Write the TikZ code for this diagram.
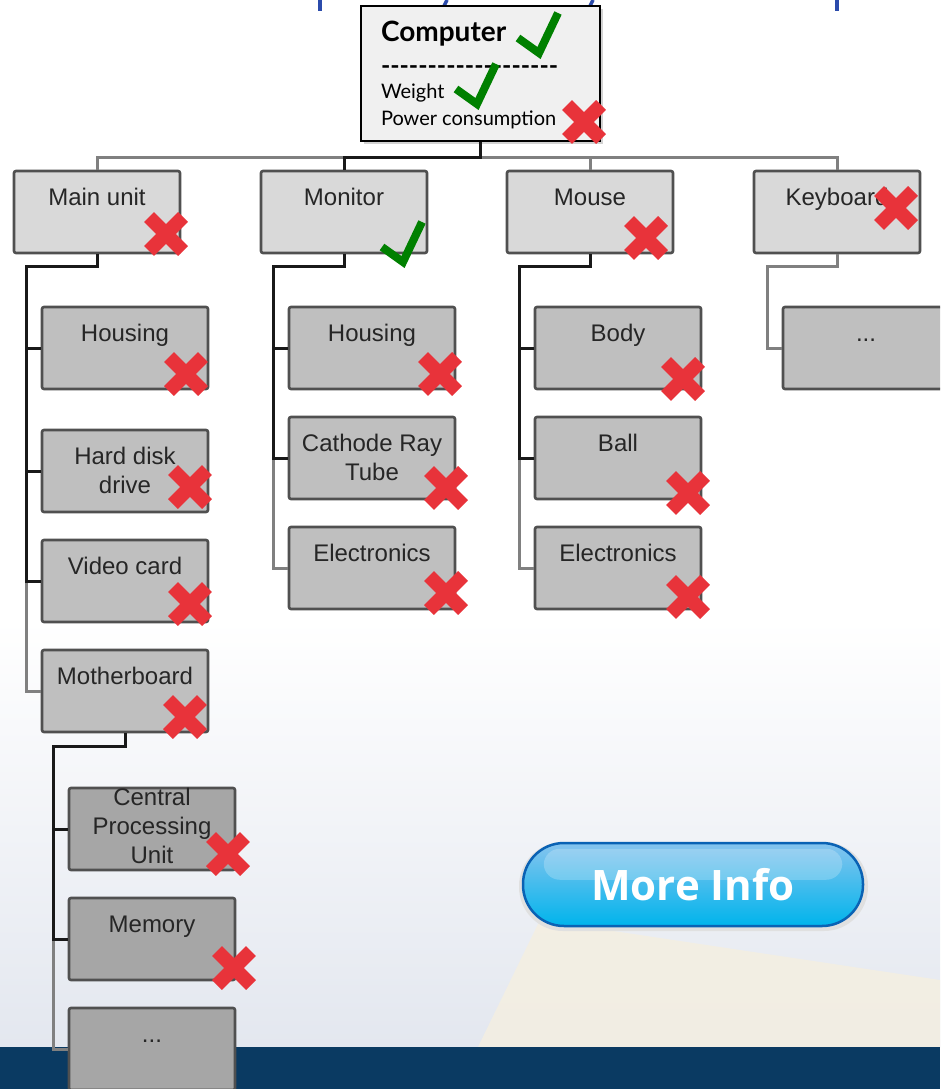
\documentclass[tikz,border=0pt]{standalone}
\usepackage{fontspec}
\setmainfont{Liberation Sans}
\newfontfamily\gillfont{Lato}
\newfontfamily\btnfont{Open Sans}
\usetikzlibrary{shadows}
\definecolor{boxA}{HTML}{D9D9D9}
\definecolor{boxB}{HTML}{BFBFBF}
\definecolor{boxC}{HTML}{A6A6A6}
\definecolor{rim}{HTML}{505050}
\definecolor{xred}{HTML}{E8333A}
\definecolor{okgreen}{HTML}{008000}
\definecolor{navy}{HTML}{0A3A62}
\definecolor{topblue}{HTML}{2B4BAB}
\definecolor{bgblue}{HTML}{E3E7EF}
\definecolor{beige}{HTML}{F5EFE0}
\definecolor{btnrim}{HTML}{0A62B4}
\definecolor{btntop}{HTML}{86C4EE}
\definecolor{btnmid}{HTML}{3FB0EC}
\definecolor{btnbot}{HTML}{00B4EC}
\newcommand{\nope}[1]{\draw[xred,line width=14pt] ([shift={(-17,-17)}]#1) -- ([shift={(17,17)}]#1) ([shift={(-17,17)}]#1) -- ([shift={(17,-17)}]#1);}
\newcommand{\yes}[1]{\draw[okgreen,line width=8pt,line join=miter] ([shift={(-21,-15)}]#1) -- (#1) -- ([shift={(19,-40)}]#1);}
\begin{document}
\begin{tikzpicture}[x=1pt,y=-1pt,
    box/.style={draw=rim,line width=2.6pt,rounded corners=2pt,minimum width=166pt,inner xsep=0pt,inner ysep=0pt,
      text height=34pt,text depth=48pt,text=black!85,font=\fontsize{24}{29}\selectfont},
    lvlone/.style={box,fill=boxA},
    lvltwo/.style={box,fill=boxB},
    lvlthree/.style={box,fill=boxC},
    rootbox/.style={draw=black,line width=1.6pt,fill=black!6,inner xsep=20pt,inner ysep=0pt,
      text height=36pt,text depth=99pt,font=\gillfont\fontsize{20}{27}\selectfont,
      drop shadow={shadow xshift=3pt,shadow yshift=-3pt,opacity=0.35}},
    bln/.style={draw=black!90,line width=3pt},
    gln/.style={draw=black!50,line width=3pt},
    btn/.style={draw=btnrim,line width=2.5pt,rounded corners=41pt,minimum width=340pt,minimum height=83pt,
      top color=btntop,middle color=btnmid,bottom color=btnbot,text=white,
      font=\btnfont\bfseries\fontsize{42}{42}\selectfont}]
  \useasboundingbox (0,0) rectangle (940,1089);
  \clip (0,0) rectangle (940,1089);

  % background
  \fill[white] (0,0) rectangle (940,1089);
  \shade[top color=white,bottom color=bgblue] (0,620) rectangle (940,1047);
  \fill[beige,opacity=0.8] (540,920) -- (940,980) -- (940,1047) -- (478,1047) -- cycle;
  \fill[navy] (0,1047) rectangle (940,1089);
  \fill[topblue] (318,0) rectangle (322,11);
  \fill[topblue] (835,0) rectangle (839,11);
  \draw[topblue,line width=3.5pt] (441,12) -- (447,0);
  \draw[topblue,line width=3.5pt] (587,12) -- (593,0);

  \node[rootbox] (root) at (480.5,73.5) {\makebox[199pt][l]{\begin{tabular}[t]{@{}l@{}}
    {\bfseries\fontsize{28}{28}\selectfont Computer}\\[3pt]
    \raisebox{-3pt}{\bfseries\fontsize{25}{27}\selectfont -------------------}\\
    Weight\\
    Power consumption\end{tabular}}};

  \node[lvlone] (main) at (97,212) {Main unit};
  \node[lvlone] (mon) at (344,212) {Monitor};
  \node[lvlone] (mouse) at (590,212) {Mouse};
  \node[lvlone] (kbd) at (837,212) {Keyboard};

  \node[lvltwo] (hous1) at (125,348) {Housing};
  \node[lvltwo] (hdd) at (125,471) {\begin{tabular}[t]{@{}c@{}}Hard disk\\drive\end{tabular}};
  \node[lvltwo] (video) at (125,581) {Video card};
  \node[lvltwo] (mobo) at (125,691) {Motherboard};

  \node[lvltwo] (hous2) at (372,348) {Housing};
  \node[lvltwo] (crt) at (372,458) {\begin{tabular}[t]{@{}c@{}}Cathode Ray\\Tube\end{tabular}};
  \node[lvltwo] (elec1) at (372,568) {Electronics};

  \node[lvltwo] (body) at (618,348) {Body};
  \node[lvltwo] (ball) at (618,458) {Ball};
  \node[lvltwo] (elec2) at (618,568) {Electronics};

  \node[lvltwo] (kmore) at (866,348) {...};

  \node[lvlthree,text height=17pt,text depth=65pt] (cpu) at (152,829) {\begin{tabular}[t]{@{}c@{}}Central\\Processing\\Unit\end{tabular}};
  \node[lvlthree] (mem) at (152,939) {Memory};
  \node[lvlthree] (mmore) at (152,1049) {...};

  % connectors
  \draw[gln] (root.south) ++(0,16) -| (main.north);
  \draw[gln] (root.south) ++(0,16) -| (mouse.north);
  \draw[gln] (root.south) ++(0,16) -| (kbd.north);
  \draw[bln] (root.south) -- ++(0,16) -| (mon.north);

  \draw[gln] (main.south) -- ++(0,12) -| ([xshift=-14pt]mobo.west) -- (mobo.west);
  \draw[bln] (main.south) -- ++(0,12) -| ([xshift=-14pt]video.west) -- (video.west);
  \draw[bln] ([xshift=-14pt]hdd.west) -- (hdd.west);
  \draw[bln] ([xshift=-14pt]hous1.west) -- (hous1.west);

  \draw[gln] (mon.south) -- ++(0,12) -| ([xshift=-14pt]elec1.west) -- (elec1.west);
  \draw[bln] (mon.south) -- ++(0,12) -| ([xshift=-14pt]crt.west) -- (crt.west);
  \draw[bln] ([xshift=-14pt]hous2.west) -- (hous2.west);

  \draw[gln] (mouse.south) -- ++(0,12) -| ([xshift=-14pt]elec2.west) -- (elec2.west);
  \draw[bln] (mouse.south) -- ++(0,12) -| ([xshift=-14pt]ball.west) -- (ball.west);
  \draw[bln] ([xshift=-14pt]body.west) -- (body.west);

  \draw[gln] (kbd.south) -- ++(0,12) -| ([xshift=-14pt]kmore.west) -- (kmore.west);

  \draw[gln] (mobo.south) -- ++(0,13) -| ([xshift=-14pt]mmore.west) -- (mmore.west);
  \draw[bln] (mobo.south) -- ++(0,13) -| ([xshift=-14pt]mem.west) -- (mem.west);
  \draw[bln] ([xshift=-14pt]cpu.west) -- (cpu.west);

  % marks
  \yes{539,53}
  \yes{477,104}
  \yes{403,262}
  \nope{584,122}
  \nope{166,234}
  \nope{646,238}
  \nope{896,208}
  \nope{186,374}
  \nope{190,487}
  \nope{190,604}
  \nope{185,717}
  \nope{228,854}
  \nope{234,968}
  \nope{440,374}
  \nope{446,488}
  \nope{446,593}
  \nope{683,379}
  \nope{688,493}
  \nope{688,597}

  % button
  \fill[black!12,rounded corners=44pt] (519,842) rectangle (868,931);
  \node[btn] (info) at (693,884.5) {More Info};
  \fill[white,opacity=0.22,rounded corners=16pt] ([shift={(22,7)}]info.north west) rectangle ([shift={(-22,38)}]info.north east);
\end{tikzpicture}
\end{document}
